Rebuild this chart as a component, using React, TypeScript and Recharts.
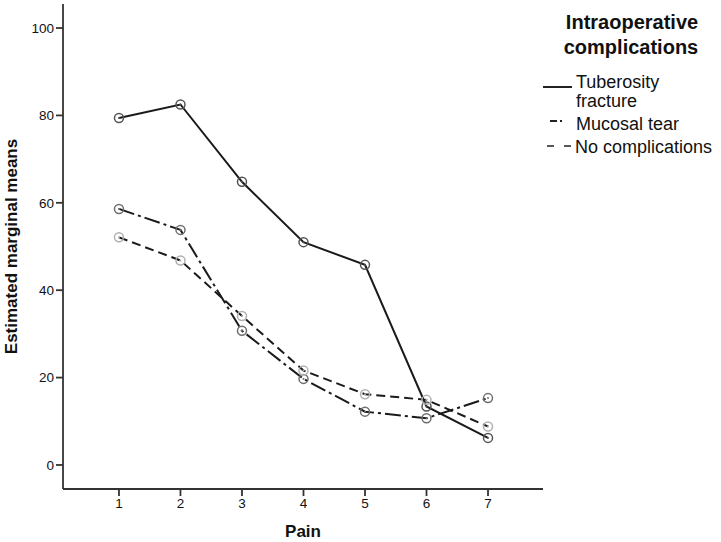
import React from "react";
import { LineChart, Line, XAxis, YAxis } from "recharts";

const pain = [1, 2, 3, 4, 5, 6, 7];
const tuberosityFracture = [79.4, 82.5, 64.8, 51.0, 45.8, 13.4, 6.2];
const mucosalTear = [58.6, 53.8, 30.7, 19.7, 12.2, 10.7, 15.3];
const noComplications = [52.1, 46.8, 34.1, 21.6, 16.2, 14.9, 8.8];
const yTicks = [0, 20, 40, 60, 80, 100];

const data = pain.map((p, i) => ({
  pain: p,
  tuberosity: tuberosityFracture[i],
  mucosal: mucosalTear[i],
  none: noComplications[i],
}));

const font = "'Liberation Sans', Arial, sans-serif";
const axisColor = "#333";

const series = [
  { key: "tuberosity", label: ["Tuberosity", "fracture"], dash: undefined, marker: "#555" },
  { key: "mucosal", label: ["Mucosal tear"], dash: "16 4 3 4", marker: "#6e6e6e" },
  { key: "none", label: ["No complications"], dash: "9 5", marker: "#b0b0b0" },
];

const makeDot = (color: string) => (props: any) => {
  const { cx, cy, index } = props;
  return (
    <g key={index}>
      <circle cx={cx} cy={cy} r={4.5} fill="none" stroke={color} strokeWidth={1.5} />
      <circle cx={cx} cy={cy} r={1} fill={color} />
    </g>
  );
};

const YLabel = (props: any) => {
  const vb = props.viewBox || { x: 0, y: 0, height: 0 };
  const x = 11;
  const y = vb.y + vb.height / 2;
  return (
    <text
      x={x}
      y={y}
      transform={`rotate(-90, ${x}, ${y})`}
      textAnchor="middle"
      dominantBaseline="central"
      fontFamily={font}
      fontWeight="bold"
      fontSize={17}
      fill="#111"
    >
      Estimated marginal means
    </text>
  );
};

const LegendBox = () => (
  <svg
    width={181}
    height={160}
    style={{ position: "absolute", left: 540, top: 0 }}
    fontFamily={font}
  >
    <text x={92} y={29} textAnchor="middle" fontWeight="bold" fontSize={20} fill="#111">
      Intraoperative
    </text>
    <text x={91} y={54} textAnchor="middle" fontWeight="bold" fontSize={20} fill="#111">
      complications
    </text>
    <line x1={3} x2={32} y1={87} y2={87} stroke="#222" strokeWidth={2} />
    <text x={36} y={88} fontSize={18} fill="#111">Tuberosity</text>
    <text x={36} y={107} fontSize={18} fill="#111">fracture</text>
    <line x1={10} x2={24} y1={121} y2={121} stroke="#222" strokeWidth={2} strokeDasharray="7 3 2 3" />
    <text x={36} y={130} fontSize={18} fill="#111">Mucosal tear</text>
    <line x1={3} x2={32} y1={146} y2={146} stroke="#222" strokeWidth={1.6} strokeDasharray="7 10" strokeDashoffset={-4} />
    <text x={35} y={153} fontSize={18} fill="#111">No complications</text>
  </svg>
);

export default function App() {
  return (
    <div style={{ position: "absolute", left: 0, top: 0, width: 721, height: 542, background: "#fff" }}>
      <LineChart
        width={721}
        height={542}
        data={data}
        margin={{ top: 4, right: 178, left: 0, bottom: 0 }}
      >
        <XAxis
          dataKey="pain"
          type="number"
          domain={[0.09, 7.894]}
          ticks={pain}
          allowDataOverflow
          height={53}
          tickSize={7}
          tickMargin={2}
          stroke={axisColor}
          strokeWidth={1.8}
          tick={{ fontSize: 13.5, fill: "#111", fontFamily: font }}
          label={{
            value: "Pain",
            position: "insideBottom",
            offset: 5,
            fontSize: 17,
            fontWeight: "bold",
            fontFamily: font,
            fill: "#111",
          }}
        />
        <XAxis
          xAxisId="top"
          orientation="top"
          type="number"
          domain={[0.09, 7.894]}
          height={0}
          tick={false}
          tickLine={false}
          stroke={axisColor}
          strokeWidth={1.8}
        />
        <YAxis
          type="number"
          domain={[-5.5, 105.5]}
          ticks={yTicks}
          allowDataOverflow
          width={63}
          tickSize={7}
          tickMargin={2}
          stroke={axisColor}
          strokeWidth={1.8}
          tick={{ fontSize: 13.5, fill: "#111", fontFamily: font }}
          label={<YLabel />}
        />
        <YAxis
          yAxisId="right"
          orientation="right"
          type="number"
          domain={[-5.5, 105.5]}
          width={0}
          tick={false}
          tickLine={false}
          stroke={axisColor}
          strokeWidth={1.8}
        />
        {series.map((s) => (
          <Line
            key={s.key}
            dataKey={s.key}
            name={s.label.join(" ")}
            type="linear"
            stroke="#1a1a1a"
            strokeWidth={2}
            strokeDasharray={s.dash}
            dot={makeDot(s.marker)}
            activeDot={false}
            isAnimationActive={false}
          />
        ))}
      </LineChart>
      <LegendBox />
    </div>
  );
}
